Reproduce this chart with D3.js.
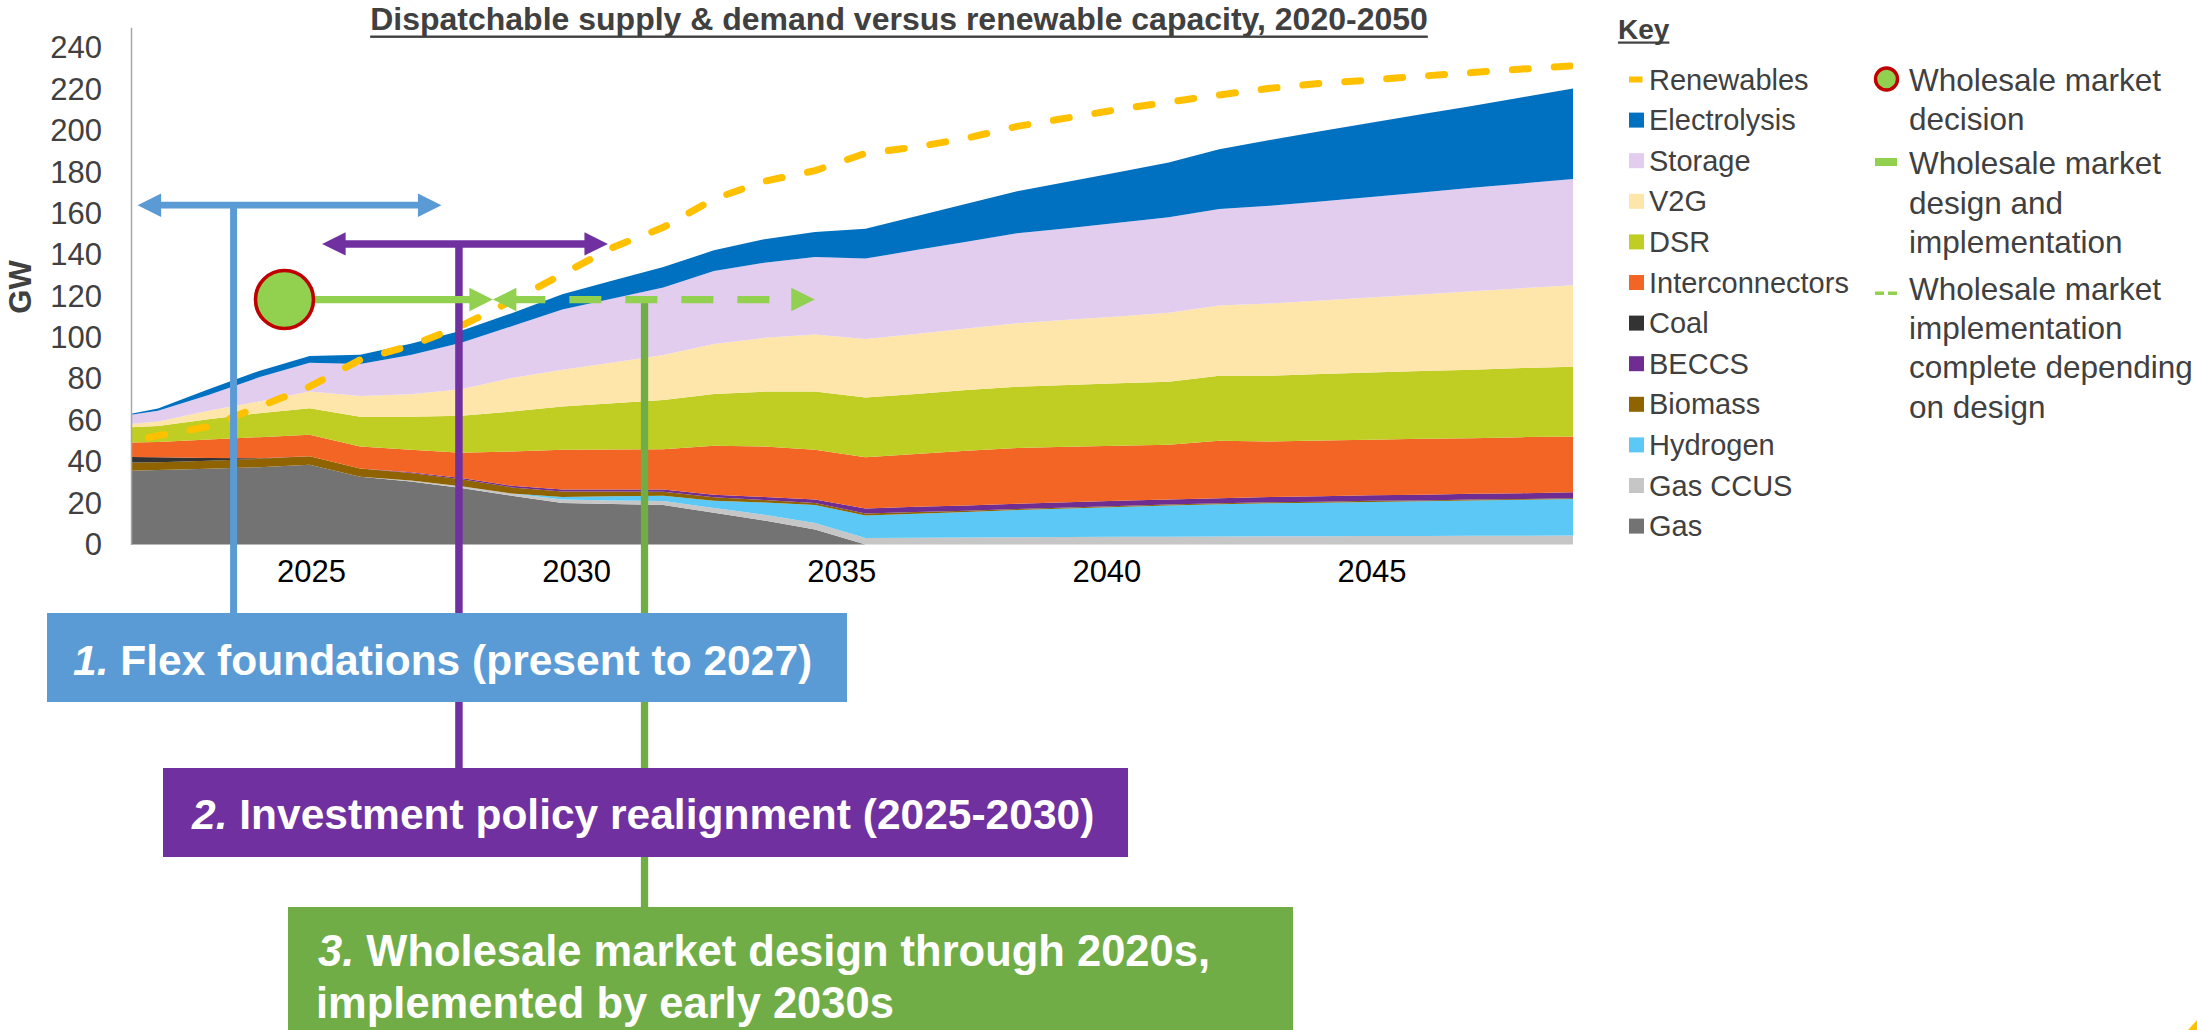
<!DOCTYPE html>
<html>
<head>
<meta charset="utf-8">
<script src="https://cdn.jsdelivr.net/npm/d3@7"></script>
<style>
  html, body { margin: 0; padding: 0; background: #ffffff; }
  svg { display: block; font-family: "Liberation Sans", Arial, Helvetica, sans-serif; }
</style>
</head>
<body>
<svg id="chart" width="2197" height="1030"></svg>
<script>
// ---------------------------------------------------------------
// Dispatchable supply & demand (GW), one value per year 2021-2050
// ---------------------------------------------------------------
const years = d3.range(2021, 2051);

const gas = [35.4, 36.0, 36.6, 37.4, 38.6, 32.8, 30.5, 27.3, 23.6, 20.1, 19.6, 19.1, 15.3, 11.6, 7.2,
             0, 0, 0, 0, 0, 0, 0, 0, 0, 0, 0, 0, 0, 0, 0];
const gasCcus = [0, 0, 0, 0, 0, 0, 0.4, 0.8, 1.0, 1.6, 1.7, 1.9, 2.4, 2.8, 3.2,
                 3.2, 3.3, 3.4, 3.5, 3.6, 3.7, 3.8, 3.9, 4.0, 4.0, 4.1, 4.1, 4.2, 4.2, 4.3];
const hydrogen = [0, 0, 0, 0, 0, 0, 0, 0, 0, 1.3, 2.0, 2.6, 3.5, 5.9, 8.7,
                  10.8, 11.6, 12.3, 13.2, 13.8, 14.4, 15.0, 15.5, 15.9, 16.2, 16.5, 16.8, 17.1, 17.4, 17.7];
const biomass = [4.0, 3.8, 3.9, 4.0, 4.0, 3.9, 3.7, 3.5, 3.0, 2.6, 2.3, 1.9, 1.6, 1.2, 1.0,
                 1.0, 0.8, 0.6, 0.5, 0.5, 0.5, 0.5, 0.5, 0.5, 0.5, 0.5, 0.4, 0.4, 0.4, 0.4];
const beccs = [0, 0, 0, 0, 0, 0, 0.3, 0.6, 0.8, 1.0, 1.0, 1.1, 1.3, 1.5, 1.6,
               2.4, 2.5, 2.5, 2.5, 2.5, 2.5, 2.5, 2.5, 2.6, 2.6, 2.7, 2.7, 2.8, 2.8, 2.9];
const coal = [3.0, 2.4, 1.3, 0.3, 0, 0, 0, 0, 0, 0, 0, 0, 0, 0, 0,
              0, 0, 0, 0, 0, 0, 0, 0, 0, 0, 0, 0, 0, 0, 0];
const interconnectors = [6.6, 7.4, 9.0, 10.2, 10.4, 10.7, 10.9, 12.1, 16.6, 19.2, 19.3, 19.5, 23.6, 24.4, 24.1,
                         24.8, 25.5, 26.5, 26.9, 26.8, 26.6, 26.4, 27.7, 26.8, 27.0, 26.8, 27.1, 26.9, 27.1, 26.9];
const dsr = [7.2, 7.7, 9.8, 11.6, 12.9, 14.4, 15.9, 17.9, 19.3, 20.9, 22.4, 23.8, 25.1, 26.5, 28.1,
             28.8, 29.1, 29.4, 29.7, 29.9, 30.2, 30.5, 31.5, 31.8, 32.1, 32.5, 32.8, 33.1, 33.4, 33.7];
const v2g = [1.1, 2.1, 4.0, 5.6, 8.0, 10.0, 10.9, 12.8, 16.2, 17.8, 19.7, 21.7, 24.1, 26.0, 27.6,
             28.3, 29.0, 29.7, 30.7, 31.5, 32.3, 33.3, 33.9, 34.9, 35.5, 36.3, 36.9, 37.9, 38.6, 39.4];
const storage = [3.7, 5.3, 7.7, 11.7, 14.0, 15.4, 19.0, 22.5, 25.0, 29.1, 30.9, 32.6, 35.3, 36.3, 37.5,
                 38.9, 40.5, 41.9, 43.5, 44.3, 45.3, 46.2, 46.7, 47.2, 47.9, 48.6, 49.3, 50.0, 50.6, 51.4];
const electrolysis = [0.0, 1.0, 2.7, 3.1, 3.2, 4.5, 5.4, 5.8, 6.3, 7.4, 8.7, 9.9, 10.0, 11.4, 12.0,
                      14.4, 16.4, 18.4, 20.3, 22.4, 24.4, 26.4, 28.8, 31.8, 33.9, 35.9, 37.9, 39.6, 41.7, 43.7];

// Renewable capacity (GW), drawn as a dashed line
const renewables = [48.1, 52.6, 57.0, 66.5, 76.3, 89.3, 96.1, 105.7, 117.8, 130.6, 143.6, 153.3, 167.0, 175.6, 180.7,
                    189.1, 192.1, 196.4, 202.1, 206.2, 210.3, 213.9, 217.3, 220.5, 222.9, 224.5, 226.4, 228.1, 229.8, 231.4];

// Stacking order, bottom to top
const seriesNames = ["Gas", "Gas CCUS", "Hydrogen", "Biomass", "BECCS", "Coal",
                     "Interconnectors", "DSR", "V2G", "Storage", "Electrolysis"];
const seriesValues = [gas, gasCcus, hydrogen, biomass, beccs, coal,
                      interconnectors, dsr, v2g, storage, electrolysis];

// Axis labels
const yTicks = d3.range(0, 241, 20);
const axisYears = [2025, 2030, 2035, 2040, 2045];

// Key entries (top to bottom)
const keyNames = ["Renewables", "Electrolysis", "Storage", "V2G", "DSR", "Interconnectors",
                  "Coal", "BECCS", "Biomass", "Hydrogen", "Gas CCUS", "Gas"];
const markerKey = [
  ["Wholesale market", "decision"],
  ["Wholesale market", "design and", "implementation"],
  ["Wholesale market", "implementation", "complete depending", "on design"]
];

// Policy timeline (calendar years, GW level on the chart)
const flexWindow = { from: 2021.73, to: 2027.46, stem: 2023.54, level: 164 };
const investWindow = { from: 2025.21, to: 2030.60, stem: 2027.79, level: 145.3 };
const wholesale = { decision: 2024.5, designEnd: 2028.43, implementEnd: 2034.5, stem: 2031.29, level: 118.4 };

const phaseTitles = [
  { num: "1.", text: " Flex foundations (present to 2027)" },
  { num: "2.", text: " Investment policy realignment (2025-2030)" },
  { num: "3.", text: " Wholesale market design through 2020s,", line2: "implemented by early 2030s" }
];

// ---------------------------------------------------------------
const colors = {
  "Renewables": "#ffc000",
  "Electrolysis": "#0070c0",
  "Storage": "#e2cdef",
  "V2G": "#fee5a9",
  "DSR": "#c0cd22",
  "Interconnectors": "#f26524",
  "Coal": "#333333",
  "BECCS": "#6f2c91",
  "Biomass": "#8f6400",
  "Hydrogen": "#5bc8f5",
  "Gas CCUS": "#c6c6c6",
  "Gas": "#737373"
};
const textGrey = "#404040";
const blue = "#5b9bd5", purple = "#7030a0", lightGreen = "#92d050", darkGreen = "#70ad47", red = "#c00000";

const svg = d3.select("#chart");

const plotLeft = 131, plotRight = 1573, plotBottom = 544.5;
const x = d3.scaleLinear().domain([2022, 2050]).range([158, plotRight]);
const y = d3.scaleLinear().domain([0, 250]).range([plotBottom, 27.3]);
const calX = d3.scaleLinear().domain([2025, 2045]).range([311, 1371.5]);

svg.append("defs").append("clipPath").attr("id", "plotClip")
  .append("rect").attr("x", plotLeft).attr("y", 0)
  .attr("width", plotRight - plotLeft).attr("height", plotBottom + 1);

// Stacked areas
const rows = years.map((yr, i) => {
  const r = { year: yr };
  seriesNames.forEach((n, j) => { r[n] = seriesValues[j][i]; });
  return r;
});
const stacked = d3.stack().keys(seriesNames)(rows);
const area = d3.area()
  .x(d => x(d.data.year))
  .y0(d => y(d[0]))
  .y1(d => y(d[1]));

const plot = svg.append("g").attr("clip-path", "url(#plotClip)");
plot.selectAll("path.layer")
  .data(stacked)
  .join("path")
  .attr("class", "layer")
  .attr("d", area)
  .attr("fill", d => colors[d.key]);

// Renewable capacity line
const line = d3.line().x((d, i) => x(years[i])).y(d => y(d));
plot.append("path")
  .attr("d", line(renewables))
  .attr("fill", "none")
  .attr("stroke", colors["Renewables"])
  .attr("stroke-width", 7)
  .attr("stroke-linecap", "round")
  .attr("stroke-dasharray", "16,26");

// Y axis
const yAxis = svg.append("g")
  .attr("transform", `translate(${plotLeft},0)`)
  .call(d3.axisLeft(y).tickValues(yTicks).tickSize(0).tickSizeOuter(0).tickPadding(29));
yAxis.select(".domain").attr("stroke", "#a6a6a6").attr("stroke-width", 1.5);
yAxis.selectAll("text").attr("font-size", 31).attr("fill", textGrey)
  .attr("font-family", "Liberation Sans, Arial, sans-serif");

svg.append("text")
  .attr("transform", "translate(31,287) rotate(-90)")
  .attr("text-anchor", "middle")
  .attr("font-size", 31).attr("font-weight", "bold").attr("fill", textGrey)
  .text("GW");

// X axis labels
const xAxis = svg.append("g")
  .attr("transform", `translate(0,${plotBottom})`)
  .call(d3.axisBottom(calX).tickValues(axisYears).tickFormat(d3.format("d")).tickSize(0).tickPadding(15));
xAxis.select(".domain").remove();
xAxis.selectAll("text").attr("font-size", 31).attr("fill", "#000")
  .attr("font-family", "Liberation Sans, Arial, sans-serif");

// Title
const title = svg.append("text")
  .attr("x", 899).attr("y", 30)
  .attr("text-anchor", "middle")
  .attr("font-size", 32).attr("font-weight", "bold").attr("fill", textGrey)
  .text("Dispatchable supply & demand versus renewable capacity, 2020-2050");
{
  const w = title.node().getComputedTextLength();
  svg.append("rect").attr("x", 899 - w / 2).attr("y", 35.5).attr("width", w).attr("height", 2.4).attr("fill", textGrey);
}

// ---------------------------------------------------------------
// Policy timeline annotations
// ---------------------------------------------------------------
const ann = svg.append("g");
const headLen = 23.5, headHalf = 11.7;

function head(g, tipX, yy, dir, color) {
  // dir = +1 points right, -1 points left
  const baseX = tipX - dir * headLen;
  g.append("polygon")
    .attr("points", `${tipX},${yy} ${baseX},${yy - headHalf} ${baseX},${yy + headHalf}`)
    .attr("fill", color);
}

function doubleArrow(win, color, width) {
  const yy = y(win.level), x0 = calX(win.from), x1 = calX(win.to);
  ann.append("line").attr("x1", x0 + headLen - 1).attr("x2", x1 - headLen + 1)
    .attr("y1", yy).attr("y2", yy).attr("stroke", color).attr("stroke-width", width);
  head(ann, x0, yy, -1, color);
  head(ann, x1, yy, 1, color);
}

// Vertical stems to the phase boxes
const boxes = [
  { x: 47, y: 613, w: 800, h: 89, fill: blue },
  { x: 163, y: 768, w: 965, h: 89, fill: purple },
  { x: 288, y: 907, w: 1005, h: 123, fill: darkGreen }
];

ann.append("line").attr("x1", calX(flexWindow.stem)).attr("x2", calX(flexWindow.stem))
  .attr("y1", y(flexWindow.level)).attr("y2", boxes[0].y).attr("stroke", blue).attr("stroke-width", 7);
ann.append("line").attr("x1", calX(investWindow.stem)).attr("x2", calX(investWindow.stem))
  .attr("y1", y(investWindow.level)).attr("y2", boxes[1].y).attr("stroke", purple).attr("stroke-width", 7.5);
ann.append("line").attr("x1", calX(wholesale.stem)).attr("x2", calX(wholesale.stem))
  .attr("y1", y(wholesale.level)).attr("y2", boxes[2].y).attr("stroke", darkGreen).attr("stroke-width", 7.3);

doubleArrow(flexWindow, blue, 6.7);
doubleArrow(investWindow, purple, 7.5);

// Wholesale market: decision point, design (solid) and implementation (dashed)
{
  const yy = y(wholesale.level);
  const cx = calX(wholesale.decision);
  const r = 29;
  const tip = calX(wholesale.designEnd);
  ann.append("line").attr("x1", cx + r).attr("x2", tip - headLen + 1)
    .attr("y1", yy).attr("y2", yy).attr("stroke", lightGreen).attr("stroke-width", 7.3);
  head(ann, tip, yy, 1, lightGreen);
  head(ann, tip, yy, -1, lightGreen);
  const endTip = calX(wholesale.implementEnd);
  ann.append("line").attr("x1", tip + headLen - 3).attr("x2", endTip - headLen)
    .attr("y1", yy).attr("y2", yy).attr("stroke", lightGreen).attr("stroke-width", 7.3)
    .attr("stroke-dasharray", "32,24");
  head(ann, endTip, yy, 1, lightGreen);
  ann.append("circle").attr("cx", cx).attr("cy", yy).attr("r", r)
    .attr("fill", lightGreen).attr("stroke", red).attr("stroke-width", 3.6);
}

// Phase boxes
const textX = [73, 192, 318];
const baselines = [[675], [829], [966, 1018]];
const textSize = [42.5, 42.5, 43.5];
boxes.forEach((b, i) => {
  svg.append("rect").attr("x", b.x).attr("y", b.y).attr("width", b.w).attr("height", b.h).attr("fill", b.fill);
  const t = svg.append("text").attr("x", textX[i]).attr("y", baselines[i][0])
    .attr("font-size", textSize[i]).attr("font-weight", "bold").attr("fill", "#ffffff");
  t.append("tspan").attr("font-style", "italic").text(phaseTitles[i].num);
  t.append("tspan").text(phaseTitles[i].text);
  if (phaseTitles[i].line2) {
    svg.append("text").attr("x", textX[i] - 2).attr("y", baselines[i][1])
      .attr("font-size", textSize[i]).attr("font-weight", "bold").attr("fill", "#ffffff")
      .text(phaseTitles[i].line2);
  }
});

// ---------------------------------------------------------------
// Key
// ---------------------------------------------------------------
const key = svg.append("g");
const keyTitle = key.append("text").attr("x", 1618).attr("y", 39)
  .attr("font-size", 28).attr("font-weight", "bold").attr("fill", textGrey).text("Key");
{
  const w = keyTitle.node().getComputedTextLength();
  key.append("rect").attr("x", 1618).attr("y", 41.5).attr("width", w).attr("height", 2.2).attr("fill", textGrey);
}
const rowY = i => 79.5 + i * 40.6;
keyNames.forEach((n, i) => {
  const cy = rowY(i);
  if (n === "Renewables") {
    key.append("rect").attr("x", 1629).attr("y", cy - 3).attr("width", 13.5).attr("height", 6).attr("fill", colors[n]);
  } else {
    key.append("rect").attr("x", 1629).attr("y", cy - 7.5).attr("width", 15).attr("height", 15).attr("fill", colors[n]);
  }
  key.append("text").attr("x", 1649).attr("y", cy).attr("dy", "0.35em")
    .attr("font-size", 29).attr("fill", textGrey).text(n);
});

const markerLineY = [[80, 119], [163.3, 202.7, 241.7], [289.3, 328.3, 367.3, 406.7]];
markerKey.forEach((lines, i) => {
  lines.forEach((s, j) => {
    key.append("text").attr("x", 1909).attr("y", markerLineY[i][j]).attr("dy", "0.35em")
      .attr("font-size", 31.5).attr("fill", textGrey).text(s);
  });
});
key.append("circle").attr("cx", 1886.5).attr("cy", 79).attr("r", 11)
  .attr("fill", lightGreen).attr("stroke", red).attr("stroke-width", 3.4);
key.append("rect").attr("x", 1875).attr("y", 158).attr("width", 22).attr("height", 8).attr("fill", lightGreen);
key.append("line").attr("x1", 1875).attr("x2", 1897).attr("y1", 293.3).attr("y2", 293.3)
  .attr("stroke", lightGreen).attr("stroke-width", 3.5).attr("stroke-dasharray", "9,4");

// Corner accent
svg.append("polygon").attr("points", "2197,1020 2197,1030 2188,1030").attr("fill", "#ffc000");
</script>
</body>
</html>
